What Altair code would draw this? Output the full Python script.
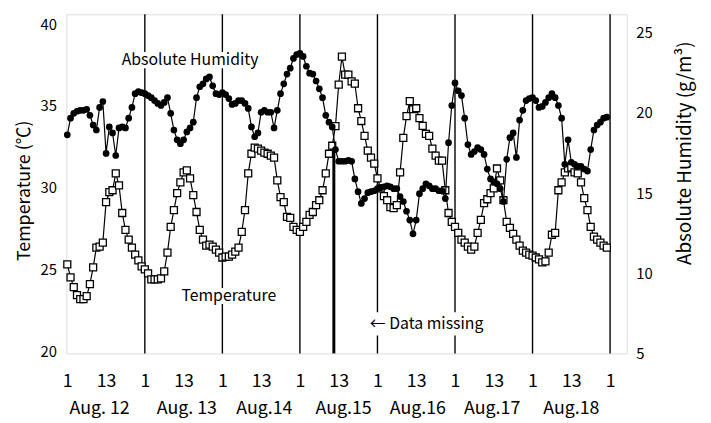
import altair as alt
import pandas as pd

FONT = "Noto Sans CJK JP"

# hourly readings, Aug 12 01:00 (hour 0) .. Aug 18 24:00 (hour 167)
temperature = [
    25.32, 24.53, 23.93, 23.44, 23.20, 23.20, 23.38, 24.11, 25.14, 26.34, 26.40, 26.65,
    29.12, 29.73, 29.85, 30.88, 30.15, 28.46, 27.43, 26.83, 26.34, 25.92, 25.56, 25.20,
    25.02, 24.77, 24.41, 24.41, 24.41, 24.47, 24.89, 26.04, 27.61, 28.64, 29.67, 30.33,
    30.94, 31.06, 30.57, 29.55, 28.52, 27.43, 26.83, 26.47, 26.53, 26.40, 26.22, 26.04,
    25.74, 25.80, 25.80, 25.92, 26.10, 26.34, 27.31, 28.64, 30.88, 32.08, 32.45, 32.39,
    32.27, 32.15, 32.08, 31.96, 31.84, 30.45, 29.43, 29.12, 28.22, 28.16, 27.61, 27.43,
    27.31, 27.61, 27.92, 28.34, 28.52, 28.94, 29.24, 29.85, 30.88, 32.08, 32.57, 33.77,
    36.31, 38.01, 36.92, 36.92, 36.50, 36.37, 34.86, 34.08, 33.17, 32.27, 31.84, 31.48,
    30.57, 29.97, 29.49, 29.24, 28.82, 28.76, 28.94, 30.94, 33.05, 34.38, 35.29, 34.80,
    34.86, 34.26, 33.78, 33.29, 33.17, 32.39, 31.96, 31.66, 31.66, 29.85, 28.46, 27.92,
    27.61, 27.25, 26.83, 26.65, 26.40, 26.22, 26.40, 27.25, 28.04, 29.06, 29.30, 29.67,
    29.97, 31.18, 30.45, 29.24, 27.92, 27.55, 27.19, 26.83, 26.47, 26.16, 26.04, 25.92,
    25.86, 25.74, 25.62, 25.44, 25.50, 26.04, 27.13, 27.25, 29.85, 30.33, 30.94, 31.18,
    31.24, 30.94, 30.88, 30.33, 29.37, 28.64, 27.61, 27.01, 26.83, 26.65, 26.47, 26.34,
]

humidity = [
    18.64, 19.68, 19.98, 20.11, 20.17, 20.17, 20.23, 19.86, 19.25, 18.94, 20.35, 20.72,
    17.48, 19.13, 18.76, 17.35, 19.07, 19.13, 19.07, 19.68, 20.35, 21.21, 21.33, 21.27,
    21.21, 21.09, 20.96, 20.78, 20.60, 20.47, 20.66, 20.96, 19.98, 18.94, 18.33, 18.09,
    18.33, 18.82, 19.07, 19.43, 20.96, 21.64, 21.82, 22.13, 22.25, 21.70, 21.21, 21.15,
    21.27, 21.15, 20.90, 20.54, 20.60, 20.78, 20.78, 20.60, 20.29, 19.13, 18.52, 18.76,
    20.05, 20.17, 20.05, 20.05, 19.07, 20.17, 21.21, 21.82, 22.43, 22.80, 23.41, 23.65,
    23.72, 23.53, 22.92, 22.49, 22.43, 22.00, 21.51, 20.96, 19.86, 19.43, 19.13, 17.72,
    16.99, 16.99, 16.99, 17.05, 16.99, 15.89, 15.09, 14.36, 14.66, 15.03, 15.09, 15.15,
    15.28, 15.34, 15.40, 15.46, 15.40, 15.28, 15.28, 14.79, 14.48, 13.87, 13.32, 12.46,
    13.32, 14.97, 15.28, 15.58, 15.46, 15.28, 15.28, 15.15, 15.15, 14.66, 18.15, 20.47,
    21.88, 21.39, 21.09, 19.68, 18.03, 17.42, 17.60, 17.84, 17.72, 17.42, 16.50, 15.89,
    15.70, 15.58, 15.28, 14.48, 17.11, 18.46, 18.76, 17.23, 19.56, 20.17, 20.78, 20.90,
    20.96, 20.78, 20.35, 20.41, 20.66, 20.96, 21.21, 20.96, 20.47, 19.68, 16.80, 18.33,
    16.93, 16.80, 16.68, 16.68, 16.50, 16.38, 17.72, 18.94, 19.25, 19.43, 19.68, 19.74,
]

hours = list(range(len(temperature)))

day_lines = [24, 48, 72, 96, 120, 144, 168]
tick_hours = [0, 12, 24, 36, 48, 60, 72, 84, 96, 108, 120, 132, 144, 156, 168]
tick_texts = ["1", "13"]
date_labels = ["Aug. 12", "Aug. 13", "Aug.14", "Aug.15", "Aug.16", "Aug.17", "Aug.18"]
date_hours = [10, 37, 61, 85.5, 108.5, 131.5, 156]

missing_hour = [82.5]
missing_top = [32.6]

notes = ["Absolute Humidity", "Temperature", "\u2190 Data missing"]
note_hours = [38, 50, 111.2]
note_temps = [37.82, 23.38, 21.7]
# white backing behind the notes (they interrupt the day lines)
box_h1 = [17.4, 35.8, 90.0]
box_h2 = [58.8, 64.3, 132.5]
box_t1 = [37.3, 22.9, 20.97]
box_t2 = [38.3, 23.87, 22.4]

W, H = 567, 343
X_DOMAIN = [-0.3, 173.2]
T_DOMAIN = [19.88, 40.6]
H_DOMAIN = [5.0, 26.16]

xs = alt.Scale(domain=X_DOMAIN, nice=False, zero=False)
ts = alt.Scale(domain=T_DOMAIN, nice=False, zero=False)
hs = alt.Scale(domain=H_DOMAIN, nice=False, zero=False)

df = pd.DataFrame({"hour": hours, "temp": temperature, "hum": humidity})
days_df = pd.DataFrame({"hour": day_lines})
dates_df = pd.DataFrame({"hour": date_hours, "label": date_labels})
miss_df = pd.DataFrame({"hour": missing_hour, "top": missing_top, "bot": [T_DOMAIN[0]]})
notes_df = pd.DataFrame({"hour": note_hours, "t": note_temps, "text": notes})
boxes_df = pd.DataFrame({"hour": box_h1, "h2": box_h2, "t1": box_t1, "t2": box_t2})

x_axis = alt.Axis(
    values=tick_hours,
    labelExpr=f"datum.value % 24 == 0 ? '{tick_texts[0]}' : '{tick_texts[1]}'",
    ticks=False, domain=False, grid=False,
    labelFontSize=18, labelPadding=19, labelColor="black", labelFont=FONT,
    labelFlush=False, labelOverlap=False,
    title=None,
)


def X(field="hour:Q"):
    return alt.X(field, scale=xs, axis=x_axis)


day_rules = alt.Chart(days_df).mark_rule(color="black", strokeWidth=1.4).encode(x=X())

boxes = alt.Chart(boxes_df).mark_rect(color="white").encode(
    x=X(), x2="h2:Q",
    y=alt.Y("t1:Q", scale=ts, axis=None), y2="t2:Q",
)

temp_chart = alt.Chart(df).mark_line(
    color="black", strokeWidth=1.2,
    point=alt.OverlayMarkDef(shape="square", filled=True, fill="white",
                             stroke="black", strokeWidth=1.3, size=50),
).encode(
    x=X(),
    y=alt.Y("temp:Q", scale=ts, axis=alt.Axis(
        values=[20, 25, 30, 35, 40], orient="left", title="Temperature (\u2103)",
        ticks=False, domain=False, grid=False,
        labelFontSize=15, labelPadding=10, labelColor="black", labelFont=FONT,
        titleFontSize=18, titleFontWeight="normal", titleFont=FONT, titleColor="black",
        titleAngle=270, titleAlign="center", titleBaseline="middle",
        titleX=-42, titleY=178,
    )),
)

hum_chart = alt.Chart(df).mark_line(
    color="black", strokeWidth=1.2,
    point=alt.OverlayMarkDef(shape="circle", filled=True, color="black", size=46),
).encode(
    x=X(),
    y=alt.Y("hum:Q", scale=hs, axis=alt.Axis(
        values=[5, 10, 15, 20, 25], orient="right", title="Absolute Humidity (g/m\u00b3)",
        ticks=False, domain=False, grid=False,
        labelFontSize=15, labelPadding=9, labelColor="black", labelFont=FONT,
        titleFontSize=19, titleFontWeight="normal", titleFont=FONT, titleColor="black",
        titleAngle=270, titleAlign="center", titleBaseline="middle",
        titleX=58, titleY=140,
    )),
)

missing_rule = alt.Chart(miss_df).mark_rule(color="black", strokeWidth=3).encode(
    x=X(),
    y=alt.Y("bot:Q", scale=ts, axis=None), y2="top:Q",
)

note_text = alt.Chart(notes_df).mark_text(
    fontSize=16, font=FONT, color="black", baseline="middle", align="center"
).encode(
    x=X(),
    y=alt.Y("t:Q", scale=ts, axis=None),
    text="text:N",
)

date_text = alt.Chart(dates_df).mark_text(
    fontSize=18, font=FONT, color="black", baseline="middle", align="center"
).encode(
    x=X(),
    y=alt.value(H + 56),
    text="label:N",
)

chart = alt.layer(
    day_rules, boxes, missing_rule, temp_chart, hum_chart, note_text, date_text
).resolve_scale(y="independent").properties(
    width=W, height=H,
    autosize=alt.AutoSizeParams(type="none"),
    padding={"left": 59, "top": 4, "right": 77, "bottom": 68},
).configure_view(stroke="black", strokeWidth=1.5).configure(background="white")

chart.save("out.html", embed_options={"renderer": "svg", "actions": False})
